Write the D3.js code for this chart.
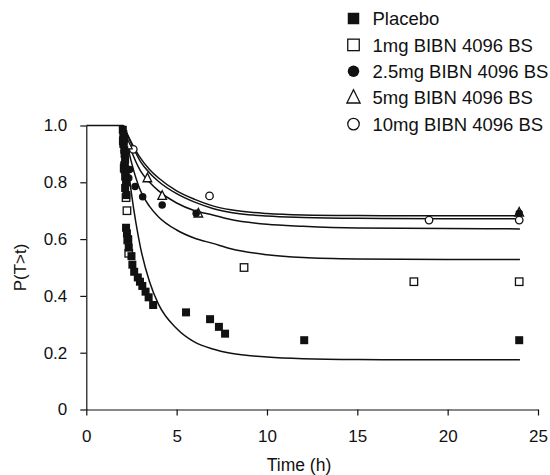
<!DOCTYPE html>
<html>
<head>
<meta charset="utf-8">
<script src="https://cdn.jsdelivr.net/npm/d3@7"></script>
<style>
  body { margin: 0; background: #fff; }
  svg { font-family: "Liberation Sans", Arial, sans-serif; }
</style>
</head>
<body>
<div id="chart"></div>
<script>
const width = 550, height = 475;
const margin = {top: 125.5, right: 12, bottom: 65.5, left: 86.3};

// legend categories
const groups = ["Placebo", "1mg BIBN 4096 BS", "2.5mg BIBN 4096 BS", "5mg BIBN 4096 BS", "10mg BIBN 4096 BS"];
const symbols = ["squareFilled", "squareOpen", "circleFilled", "triangleOpen", "circleOpen"];

// observed points [time (h), P(T>t)]
const obsPlacebo = [[2.02,0.985],[2.05,0.97],[2.08,0.955],[2.05,0.935],[2.1,0.915],[2.12,0.9],[2.15,0.88],
  [2.1,0.86],[2.12,0.845],[2.15,0.82],[2.2,0.8],[2.15,0.78],[2.22,0.755],
  [2.2,0.64],[2.25,0.62],[2.3,0.6],[2.35,0.57],[2.5,0.54],[2.55,0.51],[2.65,0.485],[2.85,0.465],
  [2.97,0.45],[3.1,0.435],[3.28,0.415],[3.45,0.395],[3.7,0.368],
  [5.52,0.342],[6.85,0.318],[7.34,0.291],[7.68,0.267],[12.06,0.244],[23.96,0.244]];
const obs1mg = [[2.05,0.946],[2.1,0.85],[2.2,0.746],[2.25,0.7],[2.3,0.597],[2.35,0.55],[8.73,0.5],[18.13,0.45],[23.96,0.45]];
const obs2_5mg = [[2.2,0.905],[2.15,0.875],[2.4,0.845],[2.35,0.815],[2.7,0.785],[3.12,0.749],[4.2,0.72],[6.08,0.691],[23.96,0.691]];
const obs5mg = [[2.3,0.93],[3.38,0.814],[4.2,0.752],[6.2,0.69],[23.96,0.693]];
const obs10mg = [[2.6,0.916],[6.82,0.752],[18.97,0.667],[23.96,0.667]];

// fitted curves, read at these times
const lagTime = 2.05;
const fitTimes = [2.05, 2.5, 3, 3.5, 4, 5, 6, 7, 8, 10, 12, 15, 20, 24];
const fitPlacebo = [1, 0.76, 0.57, 0.45, 0.37, 0.285, 0.237, 0.213, 0.198, 0.185, 0.179, 0.176, 0.175, 0.175];
const fit1mg     = [1, 0.87, 0.77, 0.715, 0.678, 0.632, 0.603, 0.585, 0.566, 0.545, 0.535, 0.53, 0.528, 0.528];
const fit2_5mg   = [1, 0.91, 0.84, 0.80, 0.77, 0.727, 0.70, 0.685, 0.669, 0.652, 0.645, 0.639, 0.637, 0.636];
const fit5mg     = [1, 0.935, 0.873, 0.833, 0.803, 0.76, 0.73, 0.708, 0.694, 0.681, 0.676, 0.673, 0.672, 0.672];
const fit10mg    = [1, 0.94, 0.885, 0.845, 0.815, 0.77, 0.74, 0.717, 0.703, 0.69, 0.685, 0.683, 0.682, 0.682];

const xTicks = [0, 5, 10, 15, 20, 25];
const yTicks = [0, 0.2, 0.4, 0.6, 0.8, 1.0];

const svg = d3.select("#chart")
  .append("svg")
  .attr("width", width)
  .attr("height", height);

const x = d3.scaleLinear().domain([0, 25]).range([margin.left, width - margin.right]);
const y = d3.scaleLinear().domain([0, 1]).range([height - margin.bottom, margin.top]);

// axes
svg.append("g")
  .attr("transform", `translate(0,${y(0)})`)
  .call(d3.axisBottom(x).tickValues(xTicks).tickSize(6).tickSizeOuter(0).tickPadding(14));
svg.append("g")
  .attr("transform", `translate(${x(0)},0)`)
  .call(d3.axisLeft(y).tickValues(yTicks).tickSize(6).tickSizeOuter(0).tickPadding(13)
    .tickFormat(d => d === 0 ? "0" : d3.format(".1f")(d)));

svg.selectAll(".tick text").attr("font-size", 17).attr("font-family", "Liberation Sans, Arial, sans-serif").attr("fill", "#111");
svg.selectAll(".domain, .tick line").attr("stroke", "#111").attr("stroke-width", 1.2);

svg.append("text")
  .attr("x", 299)
  .attr("y", 471)
  .attr("text-anchor", "middle")
  .attr("font-size", 17.5)
  .attr("fill", "#111")
  .text("Time (h)");

svg.append("text")
  .attr("transform", `translate(26,${(y(0) + y(1)) / 2}) rotate(-90)`)
  .attr("text-anchor", "middle")
  .attr("font-size", 17)
  .attr("fill", "#111")
  .text("P(T>t)");

// lag segment at 1.0 then fitted curves
svg.append("line")
  .attr("x1", x(0)).attr("x2", x(lagTime))
  .attr("y1", y(1)).attr("y2", y(1))
  .attr("stroke", "#111").attr("stroke-width", 1.6);

const line = d3.line()
  .x(d => x(d[0]))
  .y(d => y(d[1]))
  .curve(d3.curveMonotoneX);

const fits = [fitPlacebo, fit1mg, fit2_5mg, fit5mg, fit10mg];
svg.append("g")
  .selectAll("path")
  .data(fits)
  .join("path")
  .attr("d", vals => line(fitTimes.map((t, i) => [t, vals[i]])))
  .attr("fill", "none")
  .attr("stroke", "#111")
  .attr("stroke-width", 1.5);

// marker drawing
function drawSymbol(g, kind, size) {
  if (kind === "squareFilled" || kind === "squareOpen") {
    g.append("rect")
      .attr("x", -size / 2).attr("y", -size / 2)
      .attr("width", size).attr("height", size)
      .attr("fill", kind === "squareFilled" ? "#111" : "#fff")
      .attr("stroke", "#111").attr("stroke-width", kind === "squareFilled" ? 0 : 1.3);
  } else if (kind === "circleFilled" || kind === "circleOpen") {
    g.append("circle")
      .attr("r", size / 2)
      .attr("fill", kind === "circleFilled" ? "#111" : "#fff")
      .attr("stroke", "#111").attr("stroke-width", kind === "circleFilled" ? 0 : 1.3);
  } else {
    const s = size * 1.15;
    g.append("path")
      .attr("d", `M0,${-s * 0.6}L${s / 2},${s * 0.4}L${-s / 2},${s * 0.4}Z`)
      .attr("fill", "#fff")
      .attr("stroke", "#111").attr("stroke-width", 1.3);
  }
}

const obs = [obsPlacebo, obs1mg, obs2_5mg, obs5mg, obs10mg];
const drawOrder = [4, 3, 1, 0, 2];
drawOrder.forEach(k => {
  svg.append("g")
    .selectAll("g")
    .data(obs[k])
    .join("g")
    .attr("transform", d => `translate(${x(d[0])},${y(d[1])})`)
    .each(function () { drawSymbol(d3.select(this), symbols[k], k === 0 ? 8 : 7.5); });
});

// legend
const legend = svg.append("g");
groups.forEach((name, i) => {
  const row = legend.append("g").attr("transform", `translate(353.5,${18.5 + i * 26.4})`);
  drawSymbol(row, symbols[i], 11.5);
  row.append("text")
    .attr("x", 19)
    .attr("dy", "0.36em")
    .attr("font-size", 18.5)
    .attr("fill", "#111")
    .text(name);
});
</script>
</body>
</html>
